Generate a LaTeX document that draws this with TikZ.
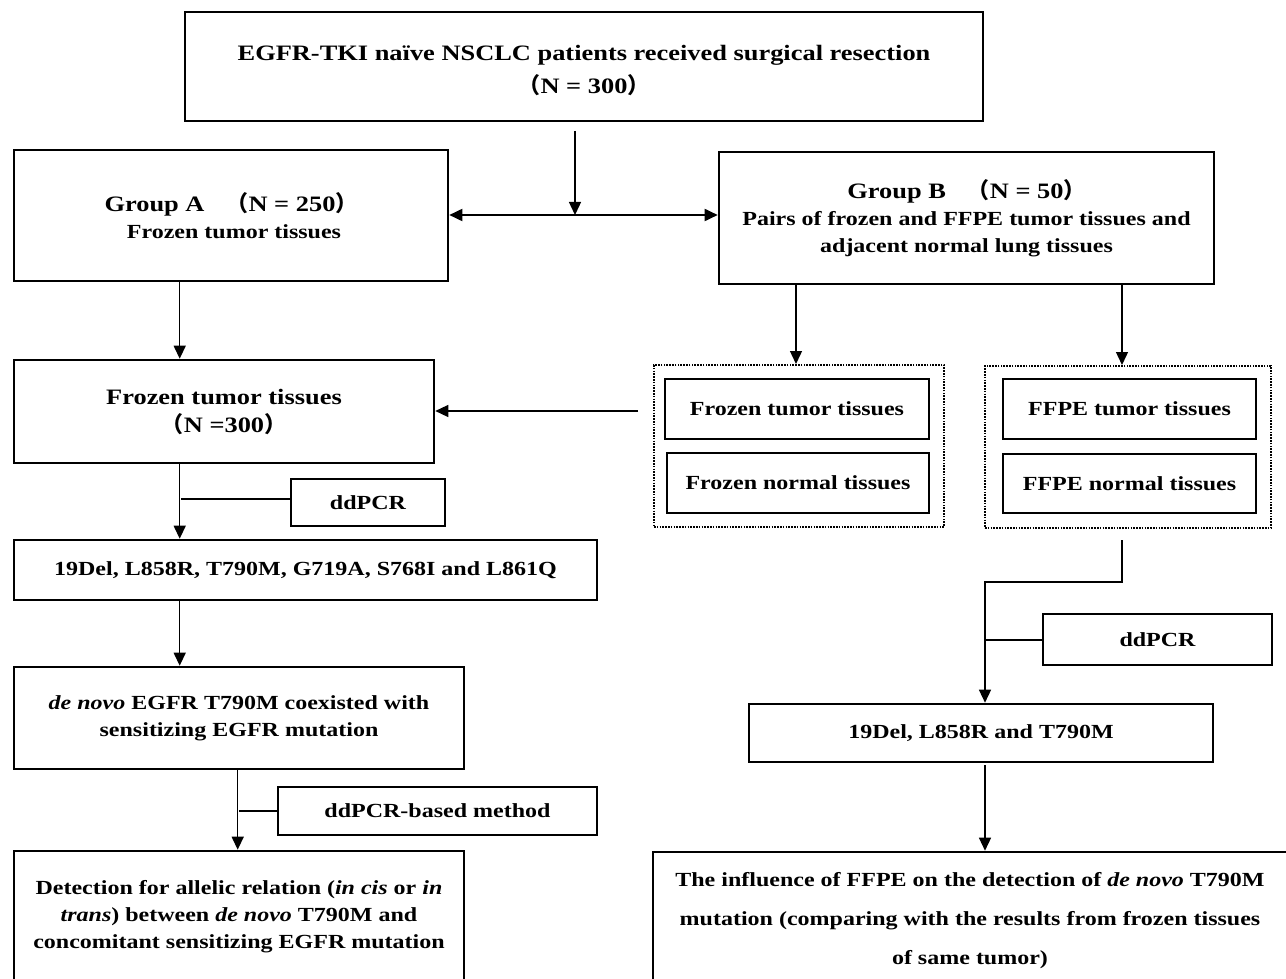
\documentclass[tikz,border=0pt]{standalone}
\usepackage{fontspec}
\setmainfont{Liberation Serif}[FakeStretch=1.2]
\newfontfamily\cjk{Noto Sans CJK SC}
\usetikzlibrary{arrows.meta,calc}
\newcommand{\lp}{{\cjk （}}
\newcommand{\rp}{{\cjk ）}}
\newcommand{\bigsz}{\fontsize{22}{28}\selectfont}
\begin{document}
\begin{tikzpicture}[x=1pt,y=-1pt,
  box/.style={draw,line width=2.6pt,rectangle,inner sep=0pt,align=center,font=\fontsize{20}{27}\selectfont\bfseries},
  dotbox/.style={draw,line width=2pt,dash pattern=on 1.6pt off 1.2pt,rectangle,inner sep=0pt},
  conn/.style={line width=1.4pt},
  arr/.style={line width=1.4pt,-{Triangle[length=13pt,width=12pt]}},
  darr/.style={line width=1.8pt,{Triangle[length=13pt,width=12pt]}-{Triangle[length=13pt,width=12pt]}}]
\useasboundingbox (0,0) rectangle (1286,979);
\clip (0,0) rectangle (1286,979);
% boxes
\node[box,minimum width=798pt,minimum height=109pt,font=\fontsize{22}{33}\selectfont\bfseries] (top) at (584,66.5)
  {\rule{0pt}{24pt}EGFR-TKI na\"ive NSCLC patients received surgical resection\\\lp N = 300\rp};
\node[box,minimum width=434pt,minimum height=131pt] (gA) at (231,215.5)
  {{\bigsz Group A\quad\lp N = 250\rp}\\\ Frozen tumor tissues};
\node[box,minimum width=495pt,minimum height=132pt] (gB) at (966.5,218)
  {{\bigsz Group B\quad\lp N = 50\rp}\\Pairs of frozen and FFPE tumor tissues and\\adjacent normal lung tissues};
\node[box,minimum width=420pt,minimum height=103pt,font=\fontsize{22}{28}\selectfont\bfseries] (fA) at (224,411.5)
  {Frozen tumor tissues\\\lp N =300\rp};
\node[dotbox,minimum width=290pt,minimum height=162pt] (d1) at (799,446) {};
\node[box,minimum width=264pt,minimum height=60pt] (ft1) at (797,409) {Frozen tumor tissues};
\node[box,minimum width=262pt,minimum height=60pt] (fn1) at (798,483) {Frozen normal tissues};
\node[dotbox,minimum width=286pt,minimum height=162pt] (d2) at (1128,447) {};
\node[box,minimum width=253pt,minimum height=60pt] (ff1) at (1129.5,409) {FFPE tumor tissues};
\node[box,minimum width=253pt,minimum height=59pt] (ff2) at (1129.5,483.5) {FFPE normal tissues};
\node[box,minimum width=154pt,minimum height=47pt] (dd1) at (368,502.5) {ddPCR};
\node[box,minimum width=583pt,minimum height=60pt] (mut) at (305.5,570) {19Del, L858R, T790M, G719A, S768I and L861Q};
\node[box,minimum width=450pt,minimum height=102pt] (den) at (239,718)
  {\textit{de novo} EGFR T790M coexisted with\\sensitizing EGFR mutation};
\node[box,minimum width=319pt,minimum height=48pt] (ddm) at (437.5,811) {ddPCR-based method};
\node[box,minimum width=450pt,minimum height=131pt] (det) at (239,916.5)
  {Detection for allelic relation (\textit{in cis} or \textit{in}\\\textit{trans}) between \textit{de novo} T790M and\\concomitant sensitizing EGFR mutation};
\node[box,minimum width=229pt,minimum height=51pt] (dd2) at (1157.5,639.5) {ddPCR};
\node[box,minimum width=464pt,minimum height=58pt] (m3) at (981,733) {19Del, L858R and T790M};
\node[box,minimum width=647pt,minimum height=138pt,font=\fontsize{20}{39}\selectfont\bfseries] (inf) at (976.5,921)
  {\hspace*{-13pt}The influence of FFPE on the detection of \textit{de novo} T790M\\\hspace*{-13pt}mutation (comparing with the results from frozen tissues\\\hspace*{-13pt}of same tumor)};
% connectors
\coordinate (t1) at (575,131);
\coordinate (mid) at (575,215);
\draw[arr] (t1) -- (mid);
\draw[darr] (gA.east |- mid) -- (gB.west |- mid);
\draw[arr] ([xshift=167pt]gA.south west) -- ([xshift=167pt]fA.north west);
\coordinate (lf) at (638,411);
\draw[arr] (lf) -- (fA.east |- lf);
\draw[arr] (gB.south -| 796,0) -- (d1.north -| 796,0);
\draw[arr] (gB.south -| 1122,0) -- (d2.north -| 1122,0);
% left column
\draw[arr] ([xshift=167pt]fA.south west) -- ([xshift=167pt]mut.north west);
\draw[conn] (181,499) -- (dd1.west |- 181,499);
\draw[arr] ([xshift=167pt]mut.south west) -- ([xshift=167pt]den.north west);
\draw[arr] ([xshift=225pt]den.south west) -- ([xshift=225pt]det.north west);
\draw[conn] (239,811) -- (ddm.west |- 239,811);
% right column
\coordinate (r1) at (1122,540);
\coordinate (r2) at (1122,582);
\coordinate (r3) at (985,582);
\draw[arr] (r1) -- (r2) -- (r3) -- (r3 |- m3.north);
\draw[conn] (985,640) -- (dd2.west |- 985,640);
\coordinate (r4) at (985,765);
\draw[arr] (r4) -- (r4 |- inf.north);
\end{tikzpicture}
\end{document}
